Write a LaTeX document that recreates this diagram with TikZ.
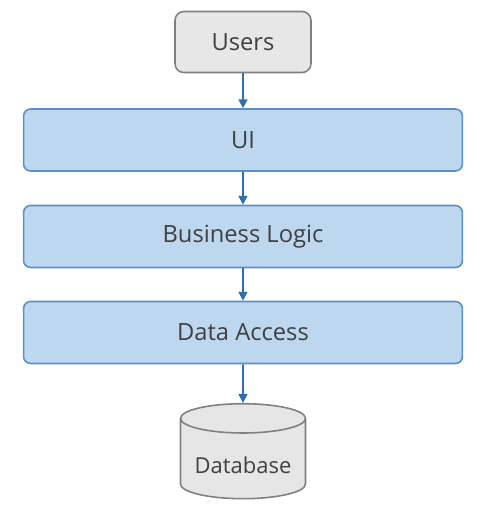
\documentclass[tikz,border=0pt]{standalone}
\usepackage{fontspec}
\setmainfont{Open Sans}
\usepackage{tikz}
\usetikzlibrary{arrows.meta,shapes.geometric,positioning}
\definecolor{layerfill}{HTML}{BDD7EE}
\definecolor{layerline}{HTML}{5B8FC9}
\definecolor{linkblue}{HTML}{2E6DB0}
\definecolor{userfill}{HTML}{E8E7E7}
\definecolor{dbfill}{HTML}{E6E6E6}
\definecolor{greyline}{HTML}{808080}
\definecolor{txt}{HTML}{404040}

\begin{document}
\begin{tikzpicture}[x=0.02cm,y=-0.02cm,
  every node/.style={font=\fontsize{13.5}{16}\selectfont,text=txt},
  layer/.style={rectangle,rounded corners=4pt,draw=layerline,line width=0.9pt,
    fill=layerfill,minimum width=8.78cm,minimum height=1.24cm},
  user node/.style={rectangle,rounded corners=5pt,draw=greyline,line width=0.9pt,
    fill=userfill,minimum width=2.72cm,minimum height=1.22cm},
  db node/.style={cylinder,shape border rotate=90,aspect=2.5,draw=greyline,
    line width=0.9pt,fill=dbfill,minimum width=2.5cm,minimum height=1.9cm},
  link/.style={-{Triangle[length=5pt,width=5pt]},linkblue,line width=1.1pt}]
  \useasboundingbox (0,0) rectangle (484,512);

  \node[user node] at (243,42) (users) {Users};
  \node[layer] at (243,140) (ui) {UI};
  \node[layer] at (243,236.5) (bl) {Business Logic};
  \node[layer] at (243,332.5) (da) {Data Access};
  \node[db node] at (243,462) (db) {};
  \node[font=\fontsize{12.5}{15}\selectfont] at (243,465) (dbl) {Database};

  \draw[link] (users) -- (ui);
  \draw[link] (ui) -- (bl);
  \draw[link] (bl) -- (da);
  \draw[link] (da) -- (db);
\end{tikzpicture}
\end{document}
